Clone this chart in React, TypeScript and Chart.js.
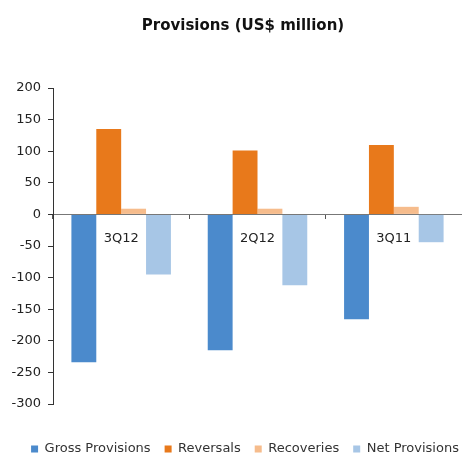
import React, { useEffect, useRef } from 'react';
import { Chart, registerables } from 'chart.js';

Chart.register(...registerables);

const titleText = 'Provisions (US$ million)';
const categories = ['3Q12', '2Q12', '3Q11'];
const seriesNames = ['Gross Provisions', 'Reversals', 'Recoveries', 'Net Provisions'];
const grossProvisions = [-234, -215, -166];
const reversals = [135, 101, 110];
const recoveries = [9, 9, 12];
const netProvisions = [-95, -112, -44];
const yMin = -300;
const yMax = 200;
const yStep = 50;

const colors = ['#4B8ACC', '#E8791B', '#F6BC8C', '#A7C6E6'];
const FONT = 'DejaVu Sans';

const shiftPlugin = {
  id: 'shiftBlocks',
  afterLayout(chart: any) {
    const t = chart.titleBlock;
    if (t) {
      t.left += 12;
      t.right += 12;
    }
    const l = chart.legend;
    if (l) {
      l.left += 14;
      l.right += 14;
      l.top += 24.5;
      l.bottom += 24.5;
    }
  },
};

export default function App() {
  const ref = useRef<HTMLCanvasElement | null>(null);

  useEffect(() => {
    if (!ref.current) return;
    const series = [grossProvisions, reversals, recoveries, netProvisions];
    const chart = new Chart(ref.current, {
      type: 'bar',
      data: {
        labels: categories,
        datasets: series.map((d, i) => ({
          label: seriesNames[i],
          data: d,
          backgroundColor: colors[i],
          borderWidth: 0,
          categoryPercentage: 0.73,
          barPercentage: 1,
        })),
      },
      options: {
        animation: false,
        responsive: true,
        maintainAspectRatio: false,
        events: [],
        layout: { padding: { left: 0, right: 0, top: 0, bottom: 13 } },
        plugins: {
          title: {
            display: true,
            text: titleText,
            color: '#111',
            font: { family: FONT, size: 15, weight: 'bold' },
            padding: { top: 17, bottom: 53 },
          },
          legend: {
            position: 'bottom',
            labels: {
              boxWidth: 7,
              boxHeight: 7,
              padding: 14,
              color: '#333',
              font: { family: FONT, size: 13 },
            },
          },
          tooltip: { enabled: false },
        },
        scales: {
          x: {
            type: 'category',
            position: { y: 0 } as any,
            offset: true,
            grid: {
              display: true,
              drawOnChartArea: false,
              drawTicks: true,
              tickLength: 4,
              offset: true,
              color: '#555',
            },
            border: { display: true, color: '#777', width: 1 },
            ticks: {
              color: '#222',
              font: { family: FONT, size: 13 },
              padding: 12,
              maxRotation: 0,
            },
          },
          y: {
            min: yMin,
            max: yMax,
            afterFit: (s: any) => {
              s.width = 53;
            },
            ticks: {
              stepSize: yStep,
              color: '#222',
              padding: 7,
              font: { family: FONT, size: 13 },
            },
            grid: {
              display: true,
              drawOnChartArea: false,
              drawTicks: true,
              tickLength: 5,
              color: '#333',
            },
            border: { display: true, color: '#333', width: 1 },
          },
        },
      },
      plugins: [shiftPlugin],
    });
    return () => chart.destroy();
  }, []);

  return (
    <div style={{ position: 'absolute', left: 0, top: 0, width: 462, height: 454, background: '#fff' }}>
      <canvas ref={ref} />
    </div>
  );
}
